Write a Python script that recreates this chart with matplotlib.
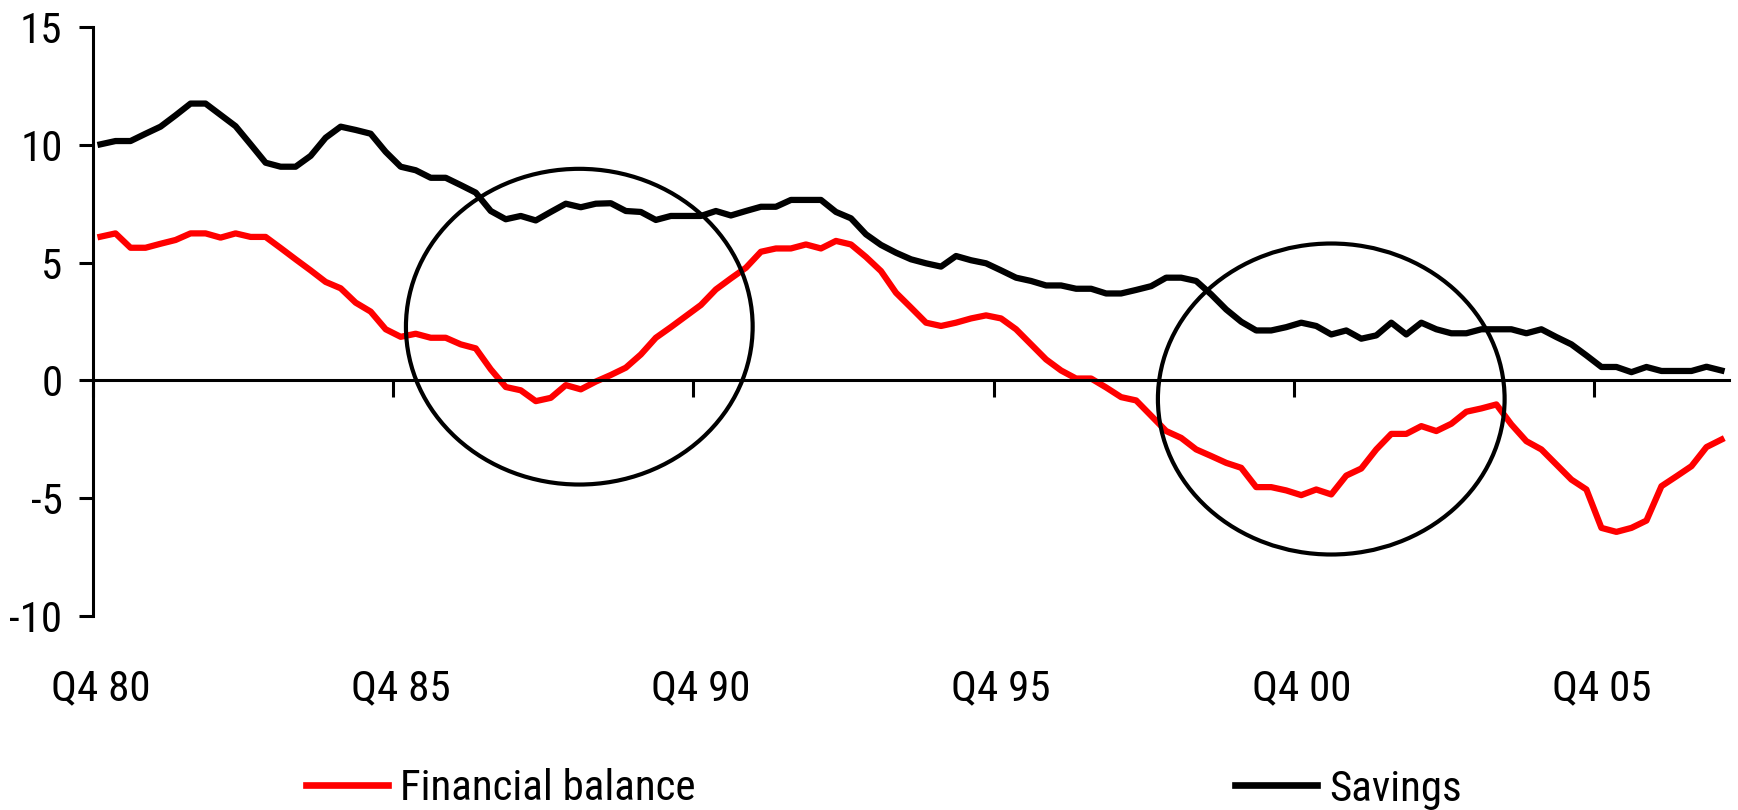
import numpy as np
import matplotlib
matplotlib.use("Agg")
import matplotlib.pyplot as plt
from matplotlib.patches import Ellipse
from matplotlib.lines import Line2D
from matplotlib import font_manager

# ---------------- data ----------------
tick_labels = ["Q4 80", "Q4 85", "Q4 90", "Q4 95", "Q4 00", "Q4 05"]
tick_every = 20  # quarters between labelled ticks

savings = [
    10.02, 10.16, 10.16, 10.47, 10.77, 11.25, 11.75, 11.75, 11.27, 10.79,
    10.02, 9.24, 9.07, 9.07, 9.53, 10.3, 10.77, 10.63, 10.47, 9.7,
    9.07, 8.92, 8.6, 8.6, 8.29, 7.97, 7.19, 6.84, 6.98, 6.79,
    7.15, 7.5, 7.35, 7.5, 7.52, 7.19, 7.15, 6.81, 6.98, 6.98,
    6.98, 7.19, 7.0, 7.19, 7.37, 7.37, 7.66, 7.66, 7.66, 7.15,
    6.88, 6.2, 5.75, 5.42, 5.14, 4.97, 4.83, 5.28, 5.1, 4.97,
    4.67, 4.36, 4.22, 4.03, 4.03, 3.89, 3.89, 3.69, 3.69, 3.84,
    4.0, 4.36, 4.36, 4.22, 3.65, 3.01, 2.49, 2.12, 2.12, 2.26,
    2.45, 2.31, 1.95, 2.12, 1.77, 1.91, 2.45, 1.95, 2.45, 2.17,
    2.0, 2.0, 2.17, 2.17, 2.17, 2.0, 2.17, 1.84, 1.53, 1.06,
    0.57, 0.57, 0.35, 0.57, 0.40, 0.40, 0.40, 0.58, 0.42,
]

financial_balance = [
    6.1, 6.24, 5.63, 5.63, 5.8, 5.96, 6.24, 6.24, 6.06, 6.24,
    6.09, 6.09, 5.62, 5.14, 4.67, 4.18, 3.91, 3.3, 2.92, 2.17,
    1.85, 1.98, 1.81, 1.81, 1.53, 1.36, 0.47, -0.28, -0.42, -0.88,
    -0.74, -0.2, -0.38, -0.05, 0.23, 0.54, 1.1, 1.81, 2.26, 2.73,
    3.2, 3.86, 4.33, 4.78, 5.46, 5.6, 5.6, 5.77, 5.6, 5.92,
    5.77, 5.24, 4.64, 3.72, 3.09, 2.45, 2.31, 2.45, 2.63, 2.76,
    2.63, 2.17, 1.53, 0.89, 0.42, 0.08, 0.08, -0.3, -0.71, -0.85,
    -1.5, -2.15, -2.44, -2.93, -3.21, -3.5, -3.71, -4.53, -4.53, -4.67,
    -4.87, -4.63, -4.84, -4.04, -3.74, -2.93, -2.27, -2.27, -1.94, -2.15,
    -1.84, -1.33, -1.19, -1.02, -1.87, -2.58, -2.93, -3.57, -4.21, -4.63,
    -6.26, -6.43, -6.26, -5.95, -4.49, -4.07, -3.64, -2.83, -2.51,
]

y_ticks = [-10, -5, 0, 5, 10, 15]
y_tick_labels = ["-10", "-5", "0", "5", "10", "15"]

# highlight ellipses (centre x in quarters, centre y, width in quarters, height)
highlights = [
    (32.4, 2.28, 23.1, 13.4),
    (82.5, -0.79, 23.1, 13.2),
]

# ---------------- font: prefer a narrow sans, like Arial Narrow ----------------
entries = font_manager.fontManager.ttflist
names = {f.name for f in entries}
preferred = ["Liberation Sans Narrow", "Arial Narrow", "Roboto Condensed",
             "Noto Sans Condensed", "Open Sans Condensed", "DejaVu Sans Condensed"]
narrow = [n for n in preferred if n in names]
if not narrow:
    narrow = sorted({f.name for f in entries
                     if ("Narrow" in f.name or "Condensed" in f.name)
                     and "Mono" not in f.name and "Serif" not in f.name})
stretch = "normal"
if not narrow:
    cond = [f for f in entries if f.stretch in ("condensed", "semi-condensed")
            and f.name in ("Roboto", "Noto Sans", "Open Sans", "DejaVu Sans", "Inter")]
    if cond:
        narrow = [cond[0].name]
        stretch = cond[0].stretch
if narrow:
    fam = [narrow[0], "Liberation Sans", "DejaVu Sans"]
    FS = 31
else:
    fam = ["Liberation Sans", "DejaVu Sans"]
    FS = 28
plt.rcParams["font.family"] = fam
plt.rcParams["font.stretch"] = stretch

W, H = 1738, 810
fig = plt.figure(figsize=(W / 100, H / 100), dpi=100)
ax = fig.add_axes([93 / W, (H - 616) / H, (1729 - 93) / W, (616 - 27) / H])

n = len(savings)
x = np.arange(n) + 0.5

ax.plot(x, financial_balance, color="#ff0000", lw=4.5, solid_joinstyle="round", zorder=3)
ax.plot(x, savings, color="black", lw=4.5, solid_joinstyle="round", zorder=3)

for cx, cy, w, h in highlights:
    ax.add_patch(Ellipse((cx, cy), w, h, fill=False, edgecolor="black", lw=3.0, zorder=4))

ax.set_xlim(0, n)
ax.set_ylim(-10, 15)

for s in ["top", "right"]:
    ax.spines[s].set_visible(False)
ax.spines["left"].set_linewidth(2.2)
ax.spines["bottom"].set_position(("data", 0))
ax.spines["bottom"].set_linewidth(2.2)
ax.spines["bottom"].set_zorder(5)

major = np.arange(0, n, tick_every)
ax.set_xticks(major)
ax.set_xticklabels([""] * len(major))
ax.set_xticks(major + 0.5, minor=True)
ax.set_xticklabels(tick_labels, minor=True, fontsize=FS)
ax.tick_params(axis="x", which="major", direction="out", length=12, width=2.2)
ax.tick_params(axis="x", which="minor", length=0, pad=207)

ax.set_yticks(y_ticks)
ax.set_yticklabels(y_tick_labels, fontsize=FS)
ax.tick_params(axis="y", direction="out", length=10, width=2.2, pad=12)

handle_kw = dict(frameon=False, borderpad=0, borderaxespad=0, fontsize=FS,
                 handlelength=82 / (FS * 100 / 72), handletextpad=12 / (FS * 100 / 72),
                 loc="center left")
legend_y = 1 - 789 / H
fig.legend([Line2D([], [], color="#ff0000", lw=4.8)], ["Financial balance"],
           bbox_to_anchor=(306 / W, legend_y), **handle_kw)
fig.legend([Line2D([], [], color="black", lw=4.8)], ["Savings"],
           bbox_to_anchor=(1235 / W, legend_y), **handle_kw)

fig.savefig("out.png", dpi=100)
